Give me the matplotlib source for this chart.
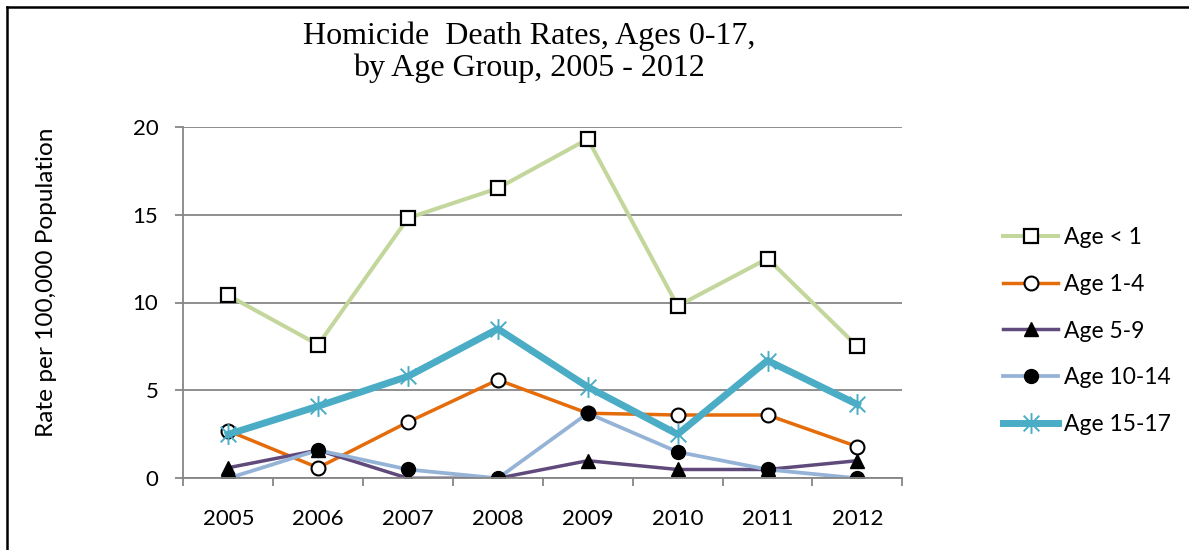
import matplotlib.pyplot as plt
from matplotlib.path import Path
from matplotlib.lines import Line2D

years = ['2005', '2006', '2007', '2008', '2009', '2010', '2011', '2012']
age_lt1 = [10.4, 7.6, 14.8, 16.5, 19.3, 9.8, 12.5, 7.5]
age_1_4 = [2.7, 0.6, 3.2, 5.6, 3.7, 3.6, 3.6, 1.8]
age_5_9 = [0.6, 1.6, 0.0, 0.0, 1.0, 0.5, 0.5, 1.0]
age_10_14 = [0.0, 1.6, 0.5, 0.0, 3.7, 1.5, 0.5, 0.0]
age_15_17 = [2.5, 4.1, 5.8, 8.5, 5.2, 2.5, 6.7, 4.2]

# asterisk marker like the Excel "star"
star = Path([(0, -1), (0, 1), (-0.75, -0.75), (0.75, 0.75), (-0.75, 0.75), (0.75, -0.75)],
            [Path.MOVETO, Path.LINETO, Path.MOVETO, Path.LINETO, Path.MOVETO, Path.LINETO])

plt.rcParams['font.family'] = ['Lato', 'DejaVu Sans']

fig = plt.figure(figsize=(11.89, 5.5), dpi=100)
ax = fig.add_axes([0.1542, 0.1304, 0.6047, 0.6392])

x = list(range(len(years)))
ax.plot(x, age_lt1, color='#C3D69B', lw=2.9, marker='s', ms=10, mfc='white', mec='black', mew=1.6, label='Age < 1')
ax.plot(x, age_1_4, color='#E46C0A', lw=2.5, marker='o', ms=10, mfc='white', mec='black', mew=1.5, label='Age 1-4')
ax.plot(x, age_5_9, color='#604A7B', lw=2.5, marker='^', ms=10, mfc='black', mec='black', label='Age 5-9')
ax.plot(x, age_10_14, color='#95B3D7', lw=2.7, marker='o', ms=10, mfc='black', mec='black', label='Age 10-14')
ax.plot(x, age_15_17, color='#4BACC6', lw=5, marker=star, ms=15, mfc='none', mec='#4BACC6', mew=1.4, label='Age 15-17')

ax.set_xlim(-0.5, len(years) - 0.5)
ax.set_ylim(0, 20)
ax.set_yticks([0, 5, 10, 15, 20])
ax.set_xticks(x)
ax.set_xticklabels(years)
ax.set_xticks([i - 0.5 for i in range(len(years) + 1)], minor=True)
ax.tick_params(axis='x', which='major', length=0, pad=22, labelsize=16)
ax.tick_params(axis='x', which='minor', length=6, width=1.3, color='#868686', direction='out')
ax.tick_params(axis='y', length=6, width=1.3, color='#868686', pad=12, labelsize=16)
ax.yaxis.grid(True, color='#868686', lw=1.3)
ax.set_axisbelow(True)
for s in ['top', 'right']:
    ax.spines[s].set_visible(False)
for s in ['left', 'bottom']:
    ax.spines[s].set_color('#868686')
    ax.spines[s].set_linewidth(1.3)

fig.text(46.7 / 1189, 1 - 282 / 550, 'Rate per 100,000 Population', rotation=90,
         ha='center', va='center', fontsize=17.6)

fig.text(0.445, 0.905, 'Homicide  Death Rates, Ages 0-17,\nby Age Group, 2005 - 2012',
         ha='center', va='center', fontsize=23, family='Liberation Serif', linespacing=1.1)

ax.legend(loc='center left', bbox_to_anchor=(1003 / 1189, 1 - 331 / 550), bbox_transform=fig.transFigure,
          frameon=False, fontsize=16.5, handlelength=2.4, handletextpad=0.25, labelspacing=1.12,
          borderpad=0, borderaxespad=0)

# chart border (left and top)
fig.add_artist(Line2D([6.7 / 1189, 6.7 / 1189], [0, 1 - 7 / 550], transform=fig.transFigure, color='black', lw=1.8))
fig.add_artist(Line2D([6.7 / 1189, 1], [1 - 7 / 550, 1 - 7 / 550], transform=fig.transFigure, color='black', lw=1.8))

plt.savefig('out.png', dpi=100)
